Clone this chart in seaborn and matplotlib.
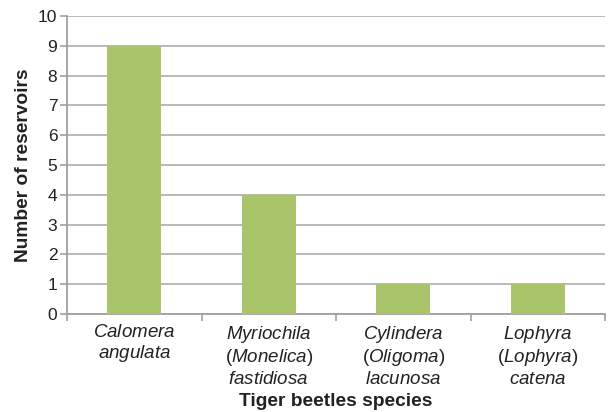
import matplotlib
matplotlib.use("Agg")
import matplotlib.pyplot as plt
import seaborn as sns
import pandas as pd

# data
species = ["Calomera angulata", "Myriochila (Monelica) fastidiosa",
           "Cylindera (Oligoma) lacunosa", "Lophyra (Lophyra) catena"]
reservoirs = [9, 4, 1, 1]
tick_labels = [
    r"$\it{Calomera}$" + "\n" + r"$\it{angulata}$",
    r"$\it{Myriochila}$" + "\n(" + r"$\it{Monelica}$" + ")\n" + r"$\it{fastidiosa}$",
    r"$\it{Cylindera}$" + "\n(" + r"$\it{Oligoma}$" + ")\n" + r"$\it{lacunosa}$",
    r"$\it{Lophyra}$" + "\n(" + r"$\it{Lophyra}$" + ")\n" + r"$\it{catena}$",
]

sns.set_style("white")
plt.rcParams['font.family'] = ['Liberation Sans', 'DejaVu Sans']
plt.rcParams['mathtext.fontset'] = 'custom'
plt.rcParams['mathtext.it'] = 'Liberation Sans:italic'
plt.rcParams['mathtext.rm'] = 'Liberation Sans'

df = pd.DataFrame({"species": species, "n": reservoirs})

fig = plt.figure(figsize=(6.08, 4.12), dpi=100)
ax = fig.add_axes([67 / 608, 98 / 412, 538 / 608, 298 / 412])

sns.barplot(data=df, x="species", y="n", color="#AAC46B", width=0.4,
            saturation=1, linewidth=0, ax=ax, zorder=3)

ax.set_ylim(0, 10)
ax.set_xlim(-0.5, 3.5)
ax.set_yticks(range(0, 11))
ax.yaxis.grid(True, color="#B3B3B3", linewidth=1.3, zorder=0)
ax.set_axisbelow(True)

# category labels centered, ticks at category boundaries
ax.set_xticks([0, 1, 2, 3])
ax.set_xticklabels(tick_labels, fontsize=13.5, color="#222222", linespacing=1.18,
                   va="top")
ax.set_xticks([-0.5, 0.5, 1.5, 2.5, 3.5], minor=True)
ax.tick_params(axis="x", which="major", length=0, pad=7)
ax.tick_params(axis="x", which="minor", length=5, color="#A0A0A0", width=1.2)
ax.tick_params(axis="y", length=5, color="#A0A0A0", width=1.2, labelsize=12.5,
               labelcolor="#222222", pad=2)
ax.yaxis.set_ticks_position("left")
ax.xaxis.set_ticks_position("bottom")

for side in ["top", "right"]:
    ax.spines[side].set_visible(False)
for side in ["left", "bottom"]:
    ax.spines[side].set_color("#A0A0A0")
    ax.spines[side].set_linewidth(1.3)

ax.set_ylabel("Number of reservoirs", fontsize=13.8, fontweight="bold", color="#222222", labelpad=4)
ax.set_xlabel("Tiger beetles species", fontsize=13.8, fontweight="bold", color="#222222", labelpad=4)

fig.savefig("out.png", dpi=100)
